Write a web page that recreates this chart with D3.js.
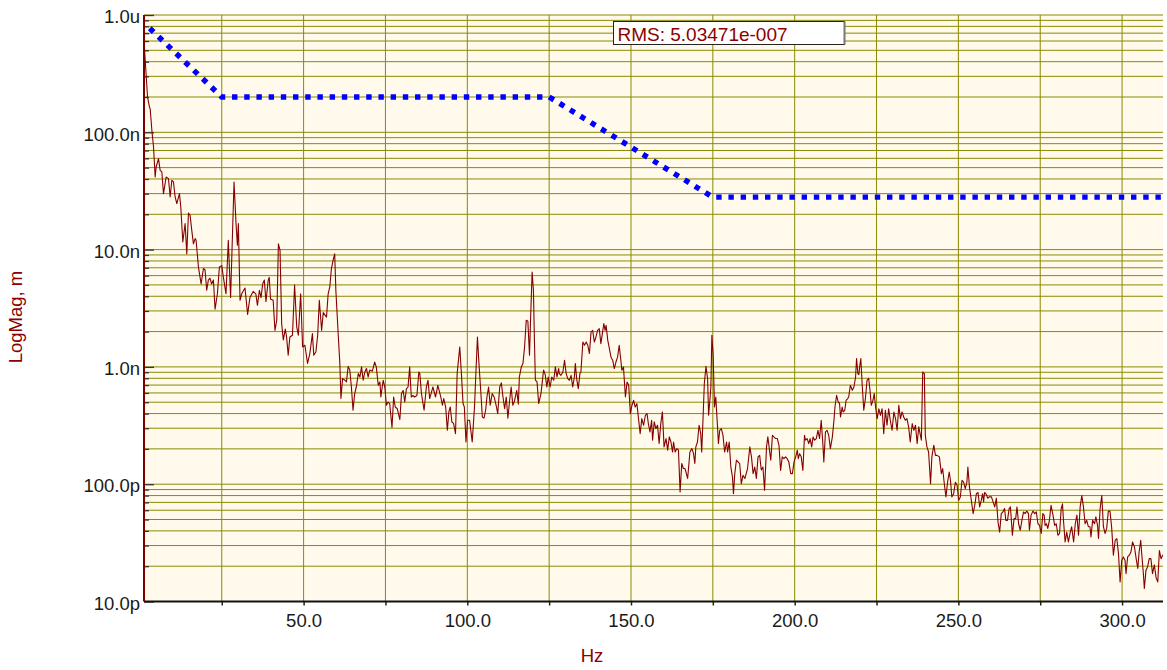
<!DOCTYPE html>
<html>
<head>
<meta charset="utf-8">
<script src="https://cdn.jsdelivr.net/npm/d3@7"></script>
<style>
  body { margin: 0; background: #ffffff; }
  text { font-family: "Liberation Sans", Arial, sans-serif; }
</style>
</head>
<body>
<svg id="chart" width="1167" height="670"></svg>
<script>
// Displacement spectrum: [frequency in Hz, magnitude in nm]
const spectrum = [
  [1.25,600],[1.62,411],[2.33,200],[2.93,164],[3.14,159],[3.65,104],[4.16,75],[4.66,41.6],[4.97,50.6],[5.68,59.7],
  [6.19,47.4],[6.7,45.9],[7.2,30],[8.02,41.6],[8.73,40.3],[9.24,28.1],[9.75,39],[10.25,37.7],[10.76,28.1],[11.27,24.7],
  [12.08,30],[12.49,23.1],[13.1,11.6],[13.81,16.7],[14.32,9.2],[14.83,20.5],[15.33,19.6],[15.84,14.6],[16.35,11.2],[16.86,12.4],
  [17.16,12],[17.88,7.1],[18.69,5.1],[19.4,6.9],[19.9,6.7],[20.4,4.5],[20.9,5.5],[21.4,5.7],[21.9,5.1],[22.45,5.5],
  [22.96,3.1],[23.67,4.2],[24.28,7.1],[24.99,7.3],[25.5,5.8],[26.3,4.2],[27.0,12],[27.7,3.9],[28.75,37.7],[29.36,16.7],
  [29.77,10.9],[30.07,16.7],[30.58,3.7],[31.09,4.2],[32.1,4.7],[32.9,2.8],[33.6,3.9],[34.6,4.4],[35.4,4.2],[35.9,3.35],
  [36.5,4.5],[37,3.9],[37.5,5.1],[38,5.5],[38.5,3.6],[39.2,5.5],[39.5,5.8],[39.9,3.8],[40.7,3.7],[41.25,2.05],
  [41.8,2.5],[42.3,11.2],[42.8,9.9],[43.3,2.34],[43.8,1.7],[44.4,2.1],[44.8,1.8],[45.3,1.26],[45.8,1.8],[46.6,1.86],
  [47.25,5.0],[47.9,2.19],[48.4,1.86],[49.1,4.2],[49.7,1.48],[50.4,1.53],[51.2,1.07],[51.9,1.3],[52.7,1.92],[53.1,1.26],
  [53.75,1.34],[54.3,1.86],[54.8,3.7],[55.5,2.05],[56,2.9],[57,2.66],[57.5,4.2],[58,4.8],[58.5,6.9],[59.0,8.1],
  [59.5,9.2],[59.85,4.5],[60.56,1.92],[61.07,1.07],[61.4,0.537],[61.9,0.794],[62.6,0.77],[63.1,0.745],[63.6,1.01],[64.1,0.94],
  [64.6,0.674],[65.1,0.427],[65.6,0.592],[66.1,0.674],[66.7,0.877],[67.2,0.82],[67.7,1.0],[68.2,0.77],[68.7,0.905],[69.2,0.97],
  [69.7,0.82],[70.2,0.94],[71.0,0.92],[71.7,1.1],[72.2,1.0],[72.8,0.697],[73.3,0.745],[73.6,0.554],[74.3,0.77],[74.8,0.674],
  [75.3,0.471],[75.8,0.502],[76.3,0.487],[77.0,0.304],[77.5,0.554],[78.0,0.455],[78.6,0.44],[79.4,0.356],[79.9,0.592],[80.4,0.63],
  [80.9,0.502],[81.4,0.65],[81.9,0.674],[82.4,1.0],[82.9,0.554],[83.4,0.57],[83.9,0.554],[84.6,0.57],[85.2,0.905],[85.5,0.877],
  [86.0,0.592],[86.8,0.427],[87.5,0.674],[88,0.77],[88.5,0.537],[89.0,0.6],[89.5,0.674],[90.3,0.554],[91.0,0.697],[91.9,0.554],
  [92.4,0.471],[92.8,0.537],[93.4,0.455],[93.9,0.288],[94.4,0.42],[94.8,0.455],[95.3,0.339],[95.8,0.33],[96.4,0.27],[96.9,0.877],
  [97.7,1.48],[98.2,0.877],[98.7,0.487],[99.1,0.455],[99.6,0.229],[100.1,0.351],[100.7,0.351],[101.5,0.229],[102.2,0.455],[102.7,1.0],
  [103.1,1.8],[103.5,1.14],[104.1,0.63],[104.6,0.374],[105.1,0.366],[105.6,0.427],[106.0,0.554],[106.5,0.674],[107.0,0.471],[107.6,0.592],
  [108.2,0.554],[108.8,0.471],[109.3,0.4],[109.9,0.674],[110.4,0.73],[110.9,0.554],[111.4,0.44],[111.9,0.554],[112.4,0.366],[112.9,0.51],
  [113.4,0.674],[113.9,0.471],[114.4,0.51],[115.1,0.63],[115.6,0.48],[115.9,0.82],[116.5,1.0],[117.0,1.07],[117.5,1.48],[118.0,2.5],
  [118.5,2.45],[119.0,1.26],[119.3,2.4],[119.8,6.45],[120.2,4.5],[120.5,1.69],[120.8,0.77],[121.3,0.745],[121.8,0.487],[122.5,0.592],
  [123.3,0.94],[123.8,0.86],[124.3,0.674],[124.7,0.82],[125.3,0.674],[125.8,0.82],[126.4,0.77],[126.9,1.0],[127.4,0.82],[127.9,0.97],
  [128.1,0.877],[128.6,0.848],[129.2,0.905],[129.7,1.14],[130.2,0.877],[130.7,0.795],[131.2,0.769],[131.7,0.848],[132.2,0.674],[132.7,0.82],
  [133.0,1.07],[133.4,0.795],[133.9,0.653],[134.4,0.877],[134.7,0.905],[135.3,1.63],[135.8,1.53],[136.3,1.63],[136.8,1.53],[137.3,1.3],
  [137.8,1.99],[138.3,2.05],[138.8,1.63],[139.3,1.8],[139.8,2.05],[140.3,2.12],[140.8,1.58],[141.4,2.05],[141.7,2.34],[142.1,2.05],
  [142.4,2.26],[142.9,1.69],[143.4,1.43],[143.9,1.21],[144.4,1.14],[144.9,0.968],[145.4,1.1],[145.9,1.21],[146.4,1.53],[146.9,1.14],
  [147.2,0.936],[147.7,1.0],[148.3,0.554],[148.8,0.743],[149.3,0.697],[149.8,0.4],[150.3,0.471],[150.8,0.519],[151.3,0.455],[151.8,0.486],
  [152.3,0.362],[152.8,0.27],[153.3,0.362],[153.85,0.318],[154.4,0.387],[154.9,0.4],[155.3,0.329],[155.8,0.279],[156.3,0.351],[156.6,0.237],
  [157.1,0.34],[157.6,0.298],[158.1,0.318],[158.6,0.222],[159.1,0.329],[159.6,0.413],[160.1,0.208],[160.7,0.245],[161.2,0.195],[161.7,0.253],
  [162.2,0.229],[162.7,0.188],[163.0,0.229],[163.5,0.188],[164.0,0.201],[164.5,0.195],[165.0,0.0859],[165.5,0.15],[166.0,0.136],[166.5,0.136],
  [167.3,0.112],[168.0,0.188],[168.6,0.201],[169.1,0.182],[169.5,0.15],[169.8,0.208],[170.3,0.229],[170.8,0.318],[171.3,0.27],[171.6,0.188],
  [172.0,0.362],[172.4,0.721],[172.9,1.01],[173.4,0.795],[173.7,0.387],[174.1,0.519],[174.4,0.674],[174.7,1.86],[175.1,1.26],[175.5,0.455],
  [175.9,0.554],[176.4,0.318],[176.7,0.222],[177.1,0.288],[177.6,0.298],[178.1,0.261],[178.6,0.188],[179.2,0.229],[179.5,0.188],[180.0,0.229],
  [180.5,0.14],[181.0,0.115],[181.3,0.083],[181.7,0.123],[182.2,0.16],[182.7,0.155],[183.2,0.15],[183.7,0.101],[184.2,0.119],[184.8,0.112],
  [185.6,0.136],[186.3,0.208],[186.8,0.171],[187.3,0.123],[187.8,0.14],[188.3,0.112],[188.8,0.171],[189.3,0.176],[189.8,0.132],[190.3,0.14],
  [190.8,0.089],[191.4,0.208],[191.8,0.253],[192.7,0.16],[193.2,0.261],[193.7,0.252],[194.2,0.245],[194.7,0.245],[195.2,0.215],[195.7,0.131],
  [196.2,0.171],[196.7,0.165],[197.2,0.171],[197.7,0.165],[198.2,0.155],[198.8,0.123],[199.3,0.123],[199.8,0.155],[200.3,0.171],[200.8,0.195],
  [201.1,0.165],[201.5,0.182],[202.0,0.171],[202.5,0.131],[203.0,0.261],[203.3,0.237],[203.8,0.245],[204.3,0.222],[204.7,0.245],[205.2,0.208],
  [205.6,0.252],[206.1,0.237],[206.6,0.245],[207.1,0.288],[207.6,0.245],[208.1,0.351],[208.6,0.222],[208.9,0.155],[209.4,0.279],[209.9,0.288],
  [210.4,0.261],[210.9,0.201],[211.5,0.252],[212.0,0.351],[212.3,0.455],[212.8,0.573],[213.3,0.502],[213.7,0.49],[214.0,0.374],[214.5,0.455],
  [214.8,0.413],[215.3,0.427],[215.7,0.519],[216.2,0.537],[216.5,0.554],[217.0,0.697],[217.6,0.632],[218.1,0.674],[218.6,0.82],[218.9,1.18],
  [219.3,0.877],[219.6,0.86],[219.9,1.03],[220.2,1.18],[220.6,0.721],[221.1,0.427],[221.6,0.537],[222.1,0.769],[222.6,0.8],[223.0,0.632],
  [223.4,0.471],[223.9,0.519],[224.3,0.592],[224.7,0.455],[225.2,0.362],[225.7,0.44],[226.2,0.387],[226.7,0.44],[227.2,0.27],[227.7,0.427],
  [228.2,0.318],[228.7,0.44],[229.2,0.351],[229.75,0.288],[230.3,0.413],[230.8,0.362],[231.3,0.288],[231.8,0.471],[232.3,0.362],[232.8,0.413],
  [233.3,0.374],[233.8,0.351],[234.3,0.362],[234.8,0.308],[235.3,0.229],[235.9,0.329],[236.4,0.288],[236.9,0.318],[237.4,0.222],[237.9,0.308],
  [238.4,0.261],[238.7,0.237],[239.1,0.905],[239.6,0.877],[239.9,0.261],[240.4,0.208],[240.9,0.188],[241.5,0.101],[241.9,0.171],[242.5,0.215],
  [243.0,0.176],[243.5,0.176],[244.2,0.171],[244.8,0.123],[245.2,0.136],[245.7,0.101],[246.2,0.078],[246.7,0.104],[247.2,0.127],[247.6,0.107],
  [248.0,0.078],[248.55,0.083],[249.1,0.104],[249.6,0.098],[250.1,0.073],[250.6,0.0778],[251.1,0.108],[251.6,0.104],[252.1,0.0917],[252.6,0.104],
  [252.9,0.14],[253.4,0.094],[253.95,0.073],[254.5,0.0561],[255.0,0.066],[255.5,0.083],[256.0,0.085],[256.5,0.064],[257.0,0.073],[257.4,0.083],
  [257.7,0.0706],[258.0,0.085],[258.4,0.083],[259.0,0.076],[259.4,0.078],[260.1,0.078],[260.6,0.0706],[261.1,0.064],[261.6,0.076],[262.1,0.0476],
  [262.6,0.039],[263.1,0.0561],[263.6,0.058],[264.1,0.062],[264.5,0.0492],[265.0,0.0492],[265.5,0.062],[265.9,0.064],[266.5,0.0367],[267.0,0.0509],
  [267.5,0.0509],[267.9,0.064],[268.4,0.046],[268.9,0.0405],[269.4,0.0492],[269.9,0.058],[270.4,0.0561],[270.9,0.059],[271.4,0.0561],[271.7,0.0405],
  [272.2,0.0545],[272.8,0.059],[273.3,0.0561],[273.8,0.058],[274.3,0.046],[274.8,0.0446],[275.3,0.038],[275.8,0.0561],[276.2,0.0545],[276.5,0.0446],
  [276.9,0.046],[277.3,0.042],[277.8,0.0492],[278.3,0.066],[278.9,0.0545],[279.4,0.0446],[279.9,0.046],[280.4,0.0367],[280.9,0.038],[281.4,0.062],
  [281.8,0.068],[282.1,0.0492],[282.6,0.0322],[283.1,0.039],[283.6,0.0322],[284.1,0.038],[284.6,0.0434],[285.2,0.0322],[285.7,0.046],[286.2,0.0545],
  [286.7,0.0367],[287.2,0.064],[287.7,0.08],[288.2,0.064],[288.7,0.046],[289.2,0.0492],[289.7,0.0434],[290.2,0.0434],[290.5,0.0355],[291.0,0.0492],
  [291.6,0.046],[292.0,0.0527],[292.5,0.0446],[292.8,0.0344],[293.3,0.062],[293.8,0.08],[294.3,0.0434],[294.8,0.038],[295.3,0.042],[295.8,0.059],
  [296.3,0.059],[296.8,0.0434],[297.35,0.0248],[297.9,0.0333],[298.4,0.0344],[298.9,0.0256],[299.4,0.0147],[299.9,0.0225],[300.4,0.024],[300.9,0.0225],
  [301.2,0.0173],[301.7,0.024],[302.2,0.0248],[302.7,0.0264],[303.2,0.0322],[303.8,0.029],[304.3,0.0232],[304.8,0.0191],[305.2,0.0264],[305.7,0.0333],
  [306.0,0.0256],[306.5,0.0173],[306.8,0.0129],[307.3,0.0185],[307.8,0.0198],[308.3,0.0232],[308.8,0.0232],[309.3,0.0173],[309.85,0.0205],[310.4,0.0159],
  [310.9,0.0147],[311.4,0.0272],[311.9,0.0232],[312.5,0.025]
];

// Limit mask (Hz, nm)
const limitHz = [3.0, 25, 125, 175, 312.5];
const limitNm = [770, 200, 200, 28, 28];

// Axis ticks and labels
const yMajorValues = [1e-11, 1e-10, 1e-9, 1e-8, 1e-7, 1e-6];
const yMajorLabels = ["10.0p", "100.0p", "1.0n", "10.0n", "100.0n", "1.0u"];
const xTickValues = [25, 50, 75, 100, 125, 150, 175, 200, 225, 250, 275, 300];
const xLabelValues = [50, 100, 150, 200, 250, 300];
const xLabels = ["50.0", "100.0", "150.0", "200.0", "250.0", "300.0"];
const freqDomain = [1.25, 312.5];
const magDomain = [1e-11, 1e-6];

const rmsText = "RMS: 5.03471e-007";
const yTitle = "LogMag, m";
const xTitle = "Hz";

const NM = 1e-9;
const plot = { left: 144, right: 1163, top: 15, bottom: 601.5 };
const svg = d3.select("#chart");

const x = d3.scaleLinear().domain(freqDomain).range([plot.left, plot.right]);
const y = d3.scaleLog().domain(magDomain).range([plot.bottom, plot.top]);

svg.append("defs").append("clipPath").attr("id", "plotClip")
  .append("rect")
  .attr("x", plot.left).attr("y", plot.top - 1)
  .attr("width", plot.right - plot.left).attr("height", plot.bottom - plot.top + 1);

// plot background
svg.append("rect")
  .attr("x", plot.left).attr("y", plot.top)
  .attr("width", plot.right - plot.left).attr("height", plot.bottom - plot.top)
  .attr("fill", "#fffaec");

// grid
const grid = svg.append("g").attr("stroke", "#8a8a00").attr("stroke-width", 1);
grid.selectAll("line.h").data(y.ticks()).join("line")
  .attr("class", "h")
  .attr("x1", plot.left).attr("x2", plot.right)
  .attr("y1", d => y(d)).attr("y2", d => y(d));
grid.selectAll("line.v").data(xTickValues).join("line")
  .attr("class", "v")
  .attr("x1", d => x(d)).attr("x2", d => x(d))
  .attr("y1", plot.top).attr("y2", plot.bottom);

// left axis: inward ticks, major and minor
const minorValues = y.ticks().filter(v => !yMajorValues.some(m => Math.abs(v / m - 1) < 1e-6));
const yMinorAxis = d3.axisLeft(y).tickValues(minorValues).tickSize(-5).tickFormat("");
const yMajorAxis = d3.axisLeft(y).tickValues(yMajorValues).tickSize(-10).tickPadding(4)
  .tickFormat((d, i) => yMajorLabels[i]);

const gyMinor = svg.append("g").attr("transform", `translate(${plot.left},0)`).call(yMinorAxis);
const gyMajor = svg.append("g").attr("transform", `translate(${plot.left},0)`).call(yMajorAxis);
[gyMinor, gyMajor].forEach(g => {
  g.select(".domain").remove();
  g.selectAll(".tick line").attr("stroke", "#333").attr("stroke-width", 1.3);
});
gyMajor.selectAll(".tick text")
  .attr("font-size", "18.5px").attr("fill", "#1a1a1a").attr("dy", "0.42em");

// bottom axis
const xAxis = d3.axisBottom(x).tickValues(xTickValues).tickSize(4).tickPadding(8)
  .tickFormat(d => { const i = xLabelValues.indexOf(d); return i >= 0 ? xLabels[i] : ""; });
const gx = svg.append("g").attr("transform", `translate(0,${plot.bottom})`).call(xAxis);
gx.select(".domain").remove();
gx.selectAll(".tick line").attr("stroke", "#222").attr("stroke-width", 1.5);
gx.selectAll(".tick text").attr("font-size", "18.5px").attr("fill", "#1a1a1a");

svg.append("line")
  .attr("x1", plot.left).attr("x2", plot.right)
  .attr("y1", plot.bottom).attr("y2", plot.bottom)
  .attr("stroke", "#111").attr("stroke-width", 2);

// spectrum trace
const line = d3.line().x(d => x(d[0])).y(d => y(d[1] * NM));
svg.append("path")
  .datum(spectrum)
  .attr("clip-path", "url(#plotClip)")
  .attr("fill", "none")
  .attr("stroke", "#850000")
  .attr("stroke-width", 1.1)
  .attr("stroke-linejoin", "round")
  .attr("d", line);

// limit mask, dotted
const limitPts = limitHz.map((f, i) => [f, limitNm[i]]);
svg.append("path")
  .datum(limitPts)
  .attr("clip-path", "url(#plotClip)")
  .attr("fill", "none")
  .attr("stroke", "#0000ff")
  .attr("stroke-width", 5.4)
  .attr("stroke-dasharray", "5.4,6.8")
  .attr("d", line);

// left axis spine
svg.append("line")
  .attr("x1", plot.left).attr("x2", plot.left)
  .attr("y1", plot.top).attr("y2", plot.bottom)
  .attr("stroke", "#7a0000").attr("stroke-width", 2);

// RMS readout box
const box = svg.append("g").attr("transform", "translate(613.5,21.5)");
box.append("rect").attr("width", 231).attr("height", 23)
  .attr("fill", "#ffffff").attr("stroke", "#222").attr("stroke-width", 1);
box.append("line").attr("x1", 231).attr("x2", 231).attr("y1", 0).attr("y2", 23)
  .attr("stroke", "#777").attr("stroke-width", 2);
box.append("text").attr("x", 4).attr("y", 19.5)
  .attr("font-size", "19px").attr("fill", "#8b0000").text(rmsText);

// axis titles
svg.append("text")
  .attr("transform", "translate(21.5,317) rotate(-90)")
  .attr("text-anchor", "middle")
  .attr("font-size", "18.5px").attr("fill", "#8b0000")
  .text(yTitle);
svg.append("text")
  .attr("x", 592).attr("y", 661.5)
  .attr("text-anchor", "middle")
  .attr("font-size", "18.5px").attr("fill", "#8b0000")
  .text(xTitle);
</script>
</body>
</html>
